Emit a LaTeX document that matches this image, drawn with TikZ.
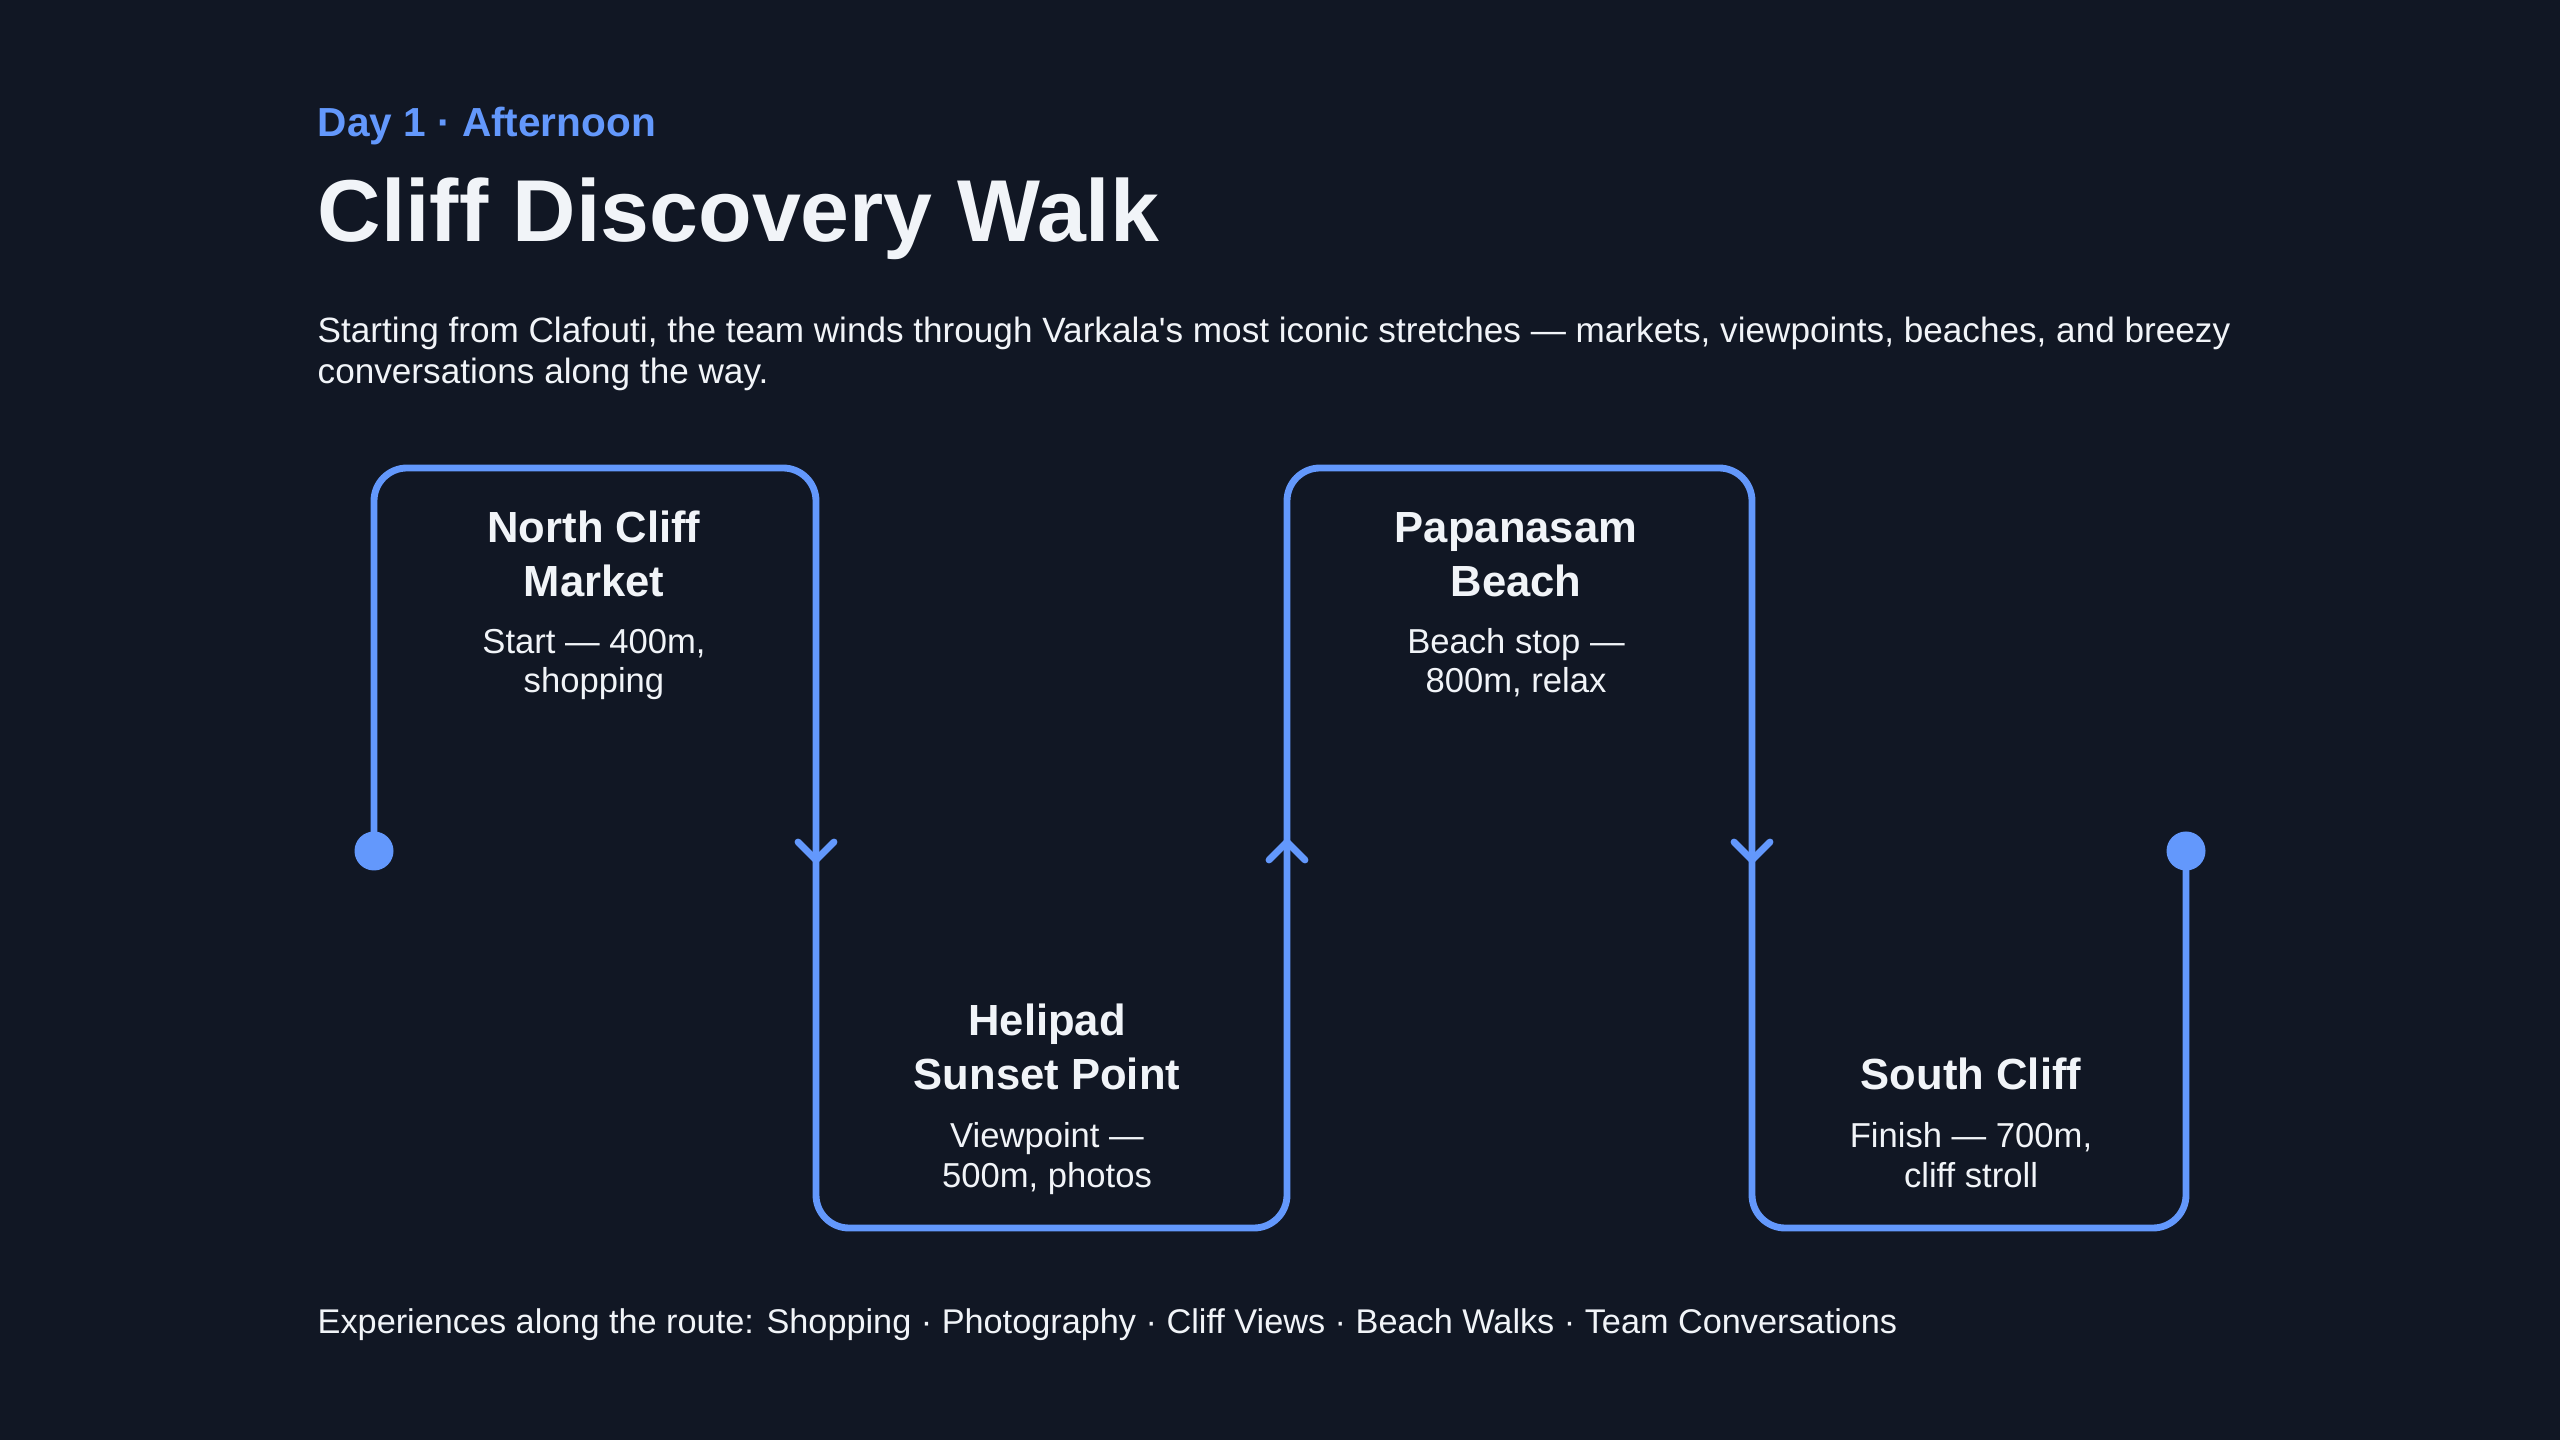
\documentclass[tikz,border=0pt]{standalone}
\usepackage{fontspec}
\setmainfont{Liberation Sans}
\usetikzlibrary{calc}
\definecolor{bgnavy}{RGB}{17,23,36}
\definecolor{routeblue}{RGB}{99,152,252}
\definecolor{txtwhite}{RGB}{241,244,248}

\begin{document}
\begin{tikzpicture}[every node/.style={inner sep=0pt,text=txtwhite},
  route/.style={routeblue,line width=1.95pt,rounded corners=0.33cm},
  chev/.style={routeblue,line width=1.95pt,line cap=round,line join=round},
  dot/.style={circle,fill=routeblue,minimum size=0.39cm},
  stoptitle/.style={align=center,anchor=base,font=\fontsize{12.4}{15.4}\selectfont\bfseries},
  stopnote/.style={align=center,anchor=base,font=\fontsize{9.85}{11.1}\selectfont}]
  \fill[bgnavy] (0,0) rectangle (25.6,14.4);
  \useasboundingbox (0,0) rectangle (25.6,14.4);

  % heading
  \node[anchor=base west,text=routeblue,font=\fontsize{11.55}{13}\selectfont\bfseries] (day) at (3.17,13.03) {Day 1 · Afternoon};
  \node[anchor=base west,font=\fontsize{25}{30}\selectfont\bfseries] (title) at (3.17,11.98) {Cliff Discovery Walk};
  % base anchor sits on the last line
  \node[anchor=base west,align=left,font=\fontsize{10}{11.7}\selectfont] (intro) at (3.17,10.56)
    {Starting from Clafouti, the team winds through Varkala\textquotesingle s most iconic stretches — markets, viewpoints, beaches, and breezy\\conversations along the way.};

  % route
  \node[dot] (start) at (3.74,5.89) {};
  \node[dot] (finish) at (21.86,5.89) {};
  \coordinate (tl1) at (3.74,9.72);
  \coordinate (tr1) at (8.16,9.72);
  \coordinate (bl2) at (8.16,2.12);
  \coordinate (br2) at (12.87,2.12);
  \coordinate (tl3) at (12.87,9.72);
  \coordinate (tr3) at (17.52,9.72);
  \coordinate (bl4) at (17.52,2.12);
  \coordinate (br4) at (21.86,2.12);
  \draw[route] (start.center)--(tl1)--(tr1)--(bl2)--(br2)--(tl3)--(tr3)--(bl4)--(br4)--(finish.center);
  \coordinate (m1) at (8.16,5.89);
  \coordinate (m2) at (12.87,5.89);
  \coordinate (m3) at (17.52,5.89);
  \draw[chev] ([shift={(-0.18,0.09)}]m1)--([yshift=-0.09cm]m1)--([shift={(0.18,0.09)}]m1);
  \draw[chev] ([shift={(-0.18,-0.09)}]m2)--([yshift=0.09cm]m2)--([shift={(0.18,-0.09)}]m2);
  \draw[chev] ([shift={(-0.18,0.09)}]m3)--([yshift=-0.09cm]m3)--([shift={(0.18,0.09)}]m3);

  % stops
  \node[stoptitle] (s1) at (5.94,8.43) {North Cliff\\Market};
  \node[stopnote] (s1n) at (5.94,7.47) {Start — 400m,\\shopping};
  \node[stoptitle] (s2) at (10.47,3.50) {Helipad\\Sunset Point};
  \node[stopnote] (s2n) at (10.47,2.53) {Viewpoint —\\500m, photos};
  \node[stoptitle] (s3) at (15.16,8.43) {Papanasam\\Beach};
  \node[stopnote] (s3n) at (15.16,7.47) {Beach stop —\\800m, relax};
  \node[stoptitle] (s4) at (19.71,3.50) {South Cliff};
  \node[stopnote] (s4n) at (19.71,2.53) {Finish — 700m,\\cliff stroll};

  % footer
  \node[anchor=base west,font=\fontsize{9.75}{11.7}\selectfont] (extras) at (3.17,1.07)
    {Experiences along the route: Shopping · Photography · Cliff Views · Beach Walks · Team Conversations};
\end{tikzpicture}
\end{document}
